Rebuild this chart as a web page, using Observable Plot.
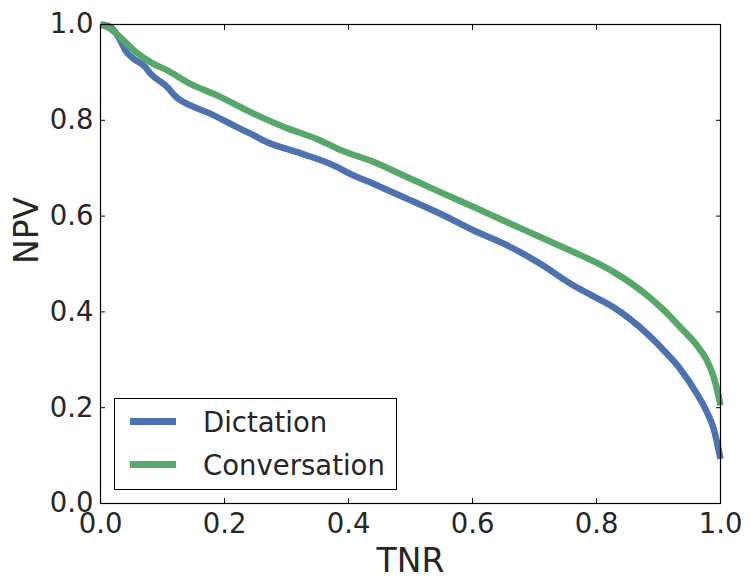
<!DOCTYPE html>
<html>
<head>
<meta charset="utf-8">
<script src="https://cdn.jsdelivr.net/npm/d3@7"></script>
<script src="https://cdn.jsdelivr.net/npm/@observablehq/plot@0.6"></script>
<style>
  html, body { margin: 0; padding: 0; background: #fff; }
  #wrap { position: relative; width: 751px; height: 587px; font-family: "DejaVu Sans", sans-serif; }
  #legend { position: absolute; left: 114px; top: 398px; width: 281px; height: 90px; border: 1px solid #000; background: #fff; }
  .sw { position: absolute; left: 15px; width: 46px; height: 7px; }
  .lbl { position: absolute; left: 88px; font-size: 27.5px; color: #262626; white-space: nowrap; line-height: 30px; }
</style>
</head>
<body>
<div id="wrap"></div>
<script>
const seriesNames = ["Dictation", "Conversation"];
const seriesColors = ["#4C72B0", "#55A868"];

const dictationTNR = [0, 0.016, 0.032, 0.04, 0.054, 0.07, 0.081, 0.108, 0.121, 0.145, 0.177, 0.215, 0.242, 0.269, 0.323, 0.376, 0.403, 0.441, 0.495, 0.548, 0.602, 0.656, 0.71, 0.763, 0.79, 0.828, 0.882, 0.909, 0.935, 0.962, 0.978, 0.989, 0.996, 1.0];
const dictationNPV = [1.0, 0.995, 0.967, 0.946, 0.928, 0.914, 0.897, 0.869, 0.85, 0.831, 0.814, 0.789, 0.772, 0.754, 0.731, 0.706, 0.688, 0.667, 0.636, 0.605, 0.570, 0.539, 0.500, 0.455, 0.436, 0.409, 0.354, 0.319, 0.281, 0.229, 0.191, 0.156, 0.118, 0.093];

const conversationTNR = [0, 0.016, 0.032, 0.054, 0.081, 0.108, 0.145, 0.188, 0.242, 0.296, 0.349, 0.387, 0.441, 0.495, 0.548, 0.602, 0.656, 0.71, 0.763, 0.79, 0.828, 0.882, 0.909, 0.935, 0.962, 0.978, 0.989, 0.996, 1.0];
const conversationNPV = [1.0, 0.991, 0.973, 0.946, 0.921, 0.904, 0.876, 0.852, 0.817, 0.786, 0.761, 0.738, 0.713, 0.681, 0.650, 0.619, 0.587, 0.556, 0.525, 0.509, 0.483, 0.434, 0.403, 0.368, 0.330, 0.299, 0.264, 0.229, 0.205];

const xTicks = [0, 0.2, 0.4, 0.6, 0.8, 1.0];
const yTicks = [0, 0.2, 0.4, 0.6, 0.8, 1.0];
const xLabel = "TNR";
const yLabel = "NPV";

const rows = [
  ...dictationTNR.map((t, i) => ({series: seriesNames[0], tnr: t, npv: dictationNPV[i]})),
  ...conversationTNR.map((t, i) => ({series: seriesNames[1], tnr: t, npv: conversationNPV[i]}))
];

const textColor = "#262626";
const fmt = d3.format(".1f");

const chart = Plot.plot({
  width: 751,
  height: 587,
  marginLeft: 100,
  marginRight: 31,
  marginTop: 24,
  marginBottom: 84,
  style: {fontFamily: "DejaVu Sans, sans-serif", fontSize: "27.5px", color: textColor, background: "#fff", overflow: "visible"},
  x: {domain: [0, 1], label: null},
  y: {domain: [0, 1], label: null},
  color: {domain: seriesNames, range: seriesColors},
  marks: [
    Plot.line(rows, {x: "tnr", y: "npv", z: "series", stroke: "series", strokeWidth: 6.5, strokeLinejoin: "round", strokeLinecap: "butt", curve: "monotone-x"}),
    Plot.axisX({anchor: "bottom", ticks: xTicks, tickSize: -5, tickPadding: 14.5, tickFormat: fmt, fontSize: 27.5, stroke: "#000", fill: textColor}),
    Plot.axisX({anchor: "top", ticks: xTicks, tickSize: -5, tickFormat: () => "", stroke: "#000"}),
    Plot.axisY({anchor: "left", ticks: yTicks, tickSize: -5, tickPadding: 12, tickFormat: fmt, fontSize: 27.5, stroke: "#000", fill: textColor}),
    Plot.axisY({anchor: "right", ticks: yTicks, tickSize: -5, tickFormat: () => "", stroke: "#000"}),
    Plot.frame({stroke: "#000", strokeWidth: 1.2}),
    Plot.text([xLabel], {frameAnchor: "bottom", dy: 68, lineAnchor: "bottom", fontSize: 33, fill: textColor}),
    Plot.text([yLabel], {frameAnchor: "left", dx: -63, rotate: -90, lineAnchor: "bottom", fontSize: 33, fill: textColor})
  ]
});

const wrap = document.getElementById("wrap");
wrap.appendChild(chart);

const legend = document.createElement("div");
legend.id = "legend";
seriesNames.forEach((name, i) => {
  const top = 8 + i * 43;
  const sw = document.createElement("div");
  sw.className = "sw";
  sw.style.top = (top + 11) + "px";
  sw.style.background = seriesColors[i];
  const lb = document.createElement("div");
  lb.className = "lbl";
  lb.style.top = top + "px";
  lb.textContent = name;
  legend.appendChild(sw);
  legend.appendChild(lb);
});
wrap.appendChild(legend);
</script>
</body>
</html>
